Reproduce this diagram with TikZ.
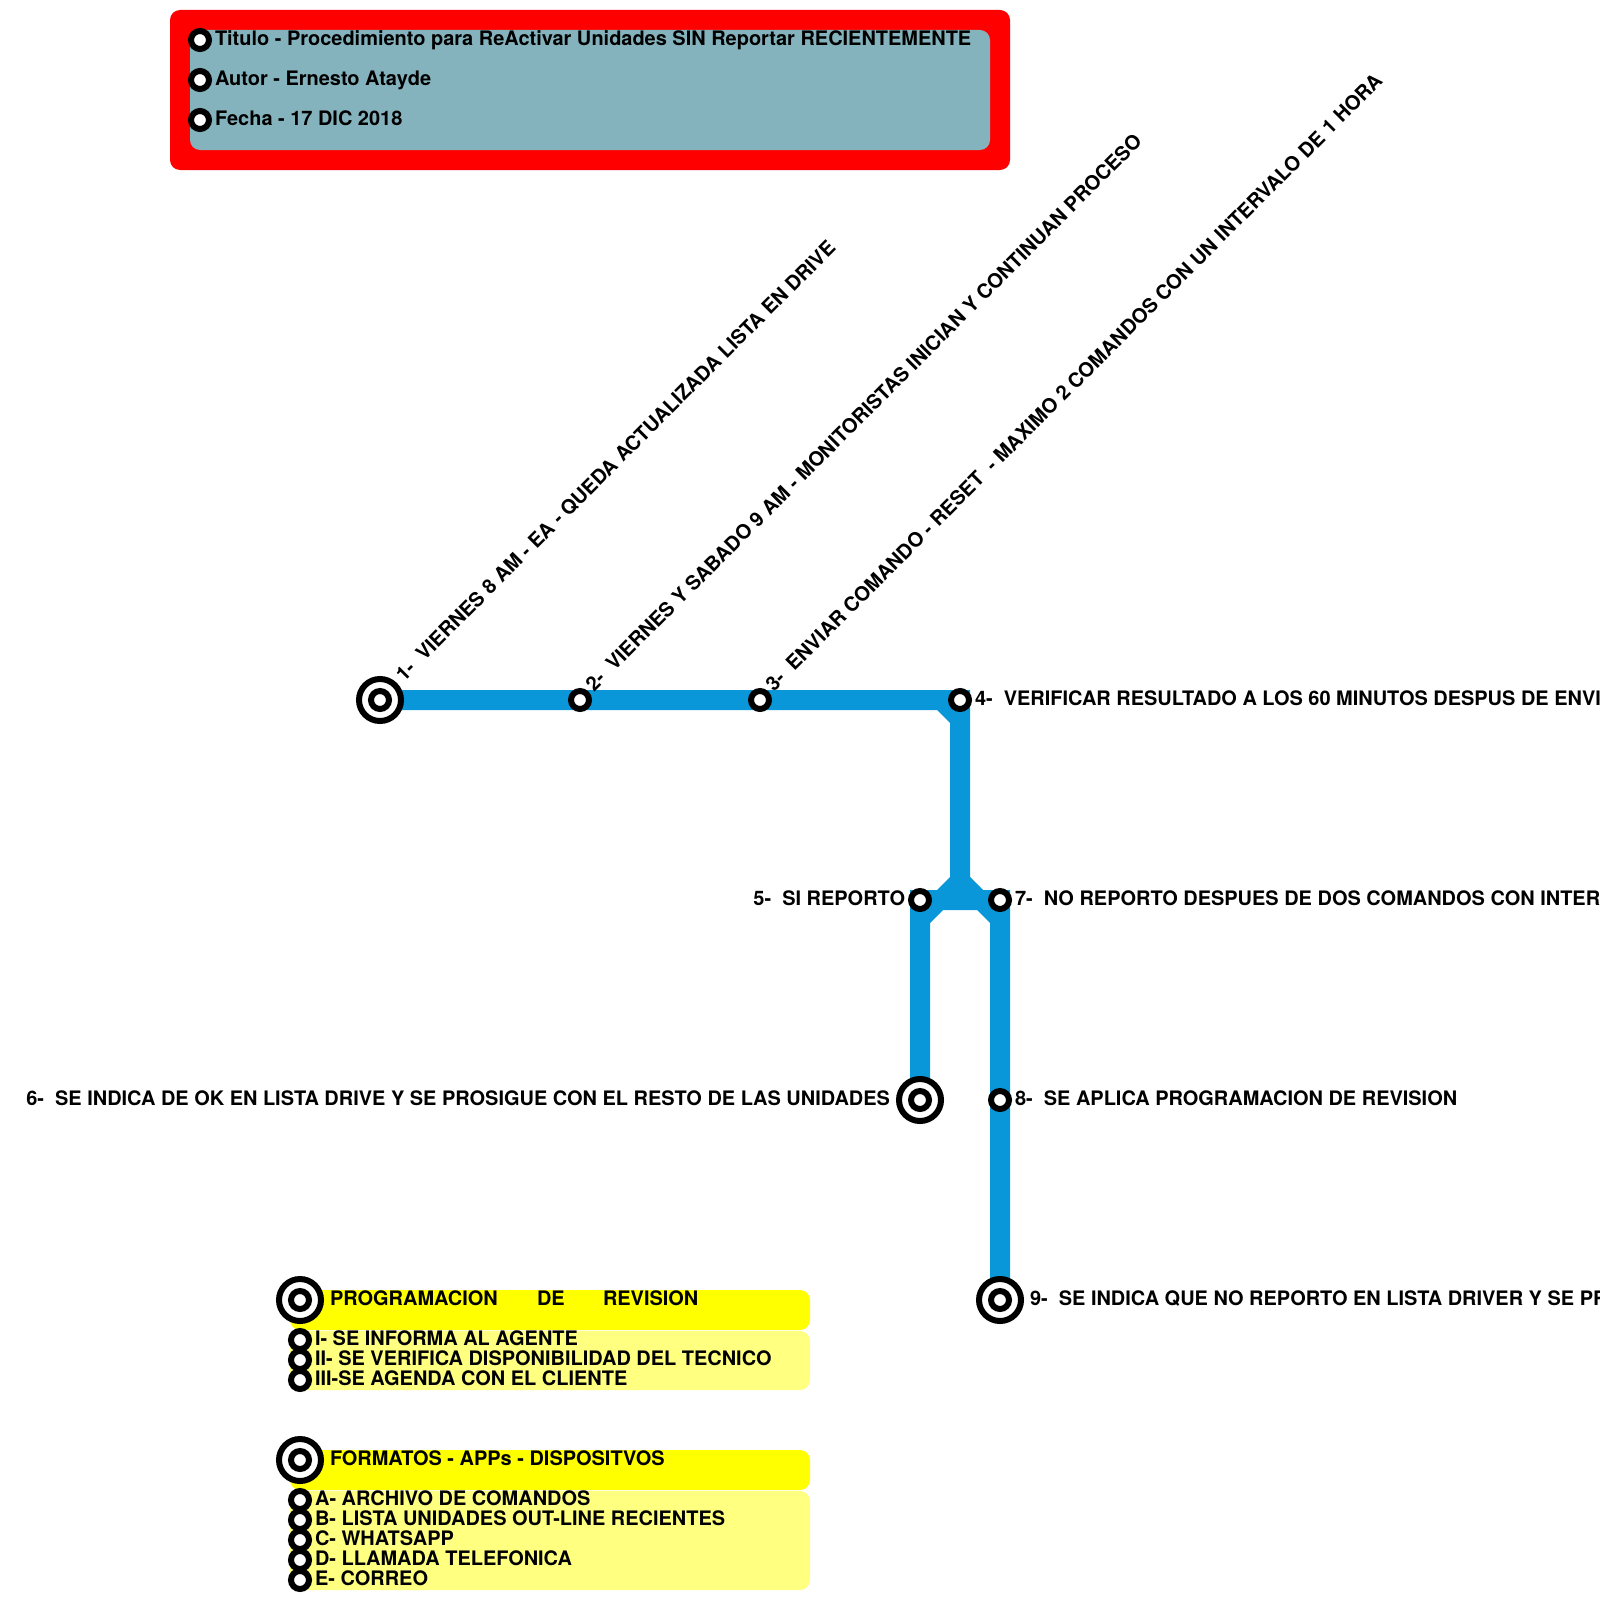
\documentclass[tikz,border=0pt]{standalone}
\usepackage{fontspec}
\setmainfont{TeX Gyre Heros}
\definecolor{lineblue}{HTML}{0A97D9}
\definecolor{boxgray}{HTML}{84B3BD}
\definecolor{softyellow}{HTML}{FFFF80}
\definecolor{pureyellow}{HTML}{FFFF00}
\definecolor{purered}{HTML}{FF0000}
\tikzset{
  x=0.5pt,y=-0.5pt,
  lab/.style={font=\fontsize{9.98}{12}\selectfont\bfseries,text=black,inner sep=0pt,outer sep=0pt},
  stopmark/.style={circle,draw=black,fill=white,line width=3pt,minimum size=9pt,inner sep=0pt,outer sep=0pt},
  endouter/.style={circle,draw=black,fill=white,line width=3pt,minimum size=21pt,inner sep=0pt,outer sep=0pt},
  enddot/.style={circle,draw=black,fill=white,line width=3pt,minimum size=9pt,inner sep=0pt,outer sep=0pt},
  metro/.style={draw=none,fill=lineblue},
}
\newcommand{\terminal}[2]{\node[endouter] (#1) at (#2) {};\node[enddot] (#1c) at (#2) {};}
\begin{document}
\begin{tikzpicture}
\useasboundingbox (0,0) rectangle (1600,1600);
\begin{scope}
\clip (0,0) rectangle (1600,1600);
% header
\fill[purered,rounded corners=5pt] (170,10) rectangle (1010,170);
\fill[boxgray,rounded corners=5pt] (190,30) rectangle (990,150);
% yellow panels
\fill[pureyellow,rounded corners=5pt] (290,1290) rectangle (810,1330);
\fill[softyellow,rounded corners=5pt] (290,1331) rectangle (810,1390);
\fill[pureyellow,rounded corners=5pt] (290,1450) rectangle (810,1490);
\fill[softyellow,rounded corners=5pt] (290,1491) rectangle (810,1590);
% lines
\fill[metro] (380,690) -- (970,690) -- (970,877) -- (983,890) -- (1010,890) -- (1010,1300) -- (990,1300) -- (990,923) -- (977,910) -- (943,910) -- (930,923) -- (930,1100) -- (910,1100) -- (910,890) -- (937,890) -- (950,877) -- (950,723) -- (937,710) -- (380,710) -- cycle;
% stations
\terminal{s1}{380,700}
\node[stopmark] (s2) at (580,700) {};
\node[stopmark] (s3) at (760,700) {};
\node[stopmark] (s4) at (960,700) {};
\node[stopmark] (s5) at (920,900) {};
\node[stopmark] (s7) at (1000,900) {};
\terminal{s6}{920,1100}
\node[stopmark] (s8) at (1000,1100) {};
\terminal{s9}{1000,1300}
\node[stopmark] (h1) at (200,40) {};
\node[stopmark] (h2) at (200,80) {};
\node[stopmark] (h3) at (200,120) {};
\terminal{p0}{300,1300}
\node[stopmark] (p1) at (300,1340) {};
\node[stopmark] (p2) at (300,1360) {};
\node[stopmark] (p3) at (300,1380) {};
\terminal{f0}{300,1460}
\node[stopmark] (f1) at (300,1500) {};
\node[stopmark] (f2) at (300,1520) {};
\node[stopmark] (f3) at (300,1540) {};
\node[stopmark] (f4) at (300,1560) {};
\node[stopmark] (f5) at (300,1580) {};
% labels
\node[lab,anchor=base west] (th1) at (215,45.4) {Titulo - Procedimiento para ReActivar Unidades SIN Reportar RECIENTEMENTE};
\node[lab,anchor=base west] (th2) at (215,85.4) {Autor - Ernesto Atayde};
\node[lab,anchor=base west] (th3) at (215,125.4) {Fecha - 17 DIC 2018};
\node[lab,anchor=base west,rotate=45] (t1) at (404,682) {1-\ \ VIERNES 8 AM - EA - QUEDA ACTUALIZADA LISTA EN DRIVE};
\node[lab,anchor=base west,rotate=45] (t2) at (594,692) {2-\ \ VIERNES Y SABADO 9 AM - MONITORISTAS INICIAN Y CONTINUAN PROCESO};
\node[lab,anchor=base west,rotate=45] (t3) at (774,692) {3-\ \ ENVIAR COMANDO - RESET\ \ - MAXIMO 2 COMANDOS CON UN INTERVALO DE 1 HORA};
\node[lab,anchor=base west] (t4) at (975,705.4) {4-\ \ VERIFICAR RESULTADO A LOS 60 MINUTOS DESPUS DE ENVIAR};
\node[lab,anchor=base east] (t5) at (905,905.4) {5-\ \ SI REPORTO};
\node[lab,anchor=base west] (t7) at (1015,905.4) {7-\ \ NO REPORTO DESPUES DE DOS COMANDOS CON INTERVALO};
\node[lab,anchor=base east] (t6) at (890,1105.4) {6-\ \ SE INDICA DE OK EN LISTA DRIVE Y SE PROSIGUE CON EL RESTO DE LAS UNIDADES};
\node[lab,anchor=base west] (t8) at (1015,1105.4) {8-\ \ SE APLICA PROGRAMACION DE REVISION};
\node[lab,anchor=base west] (t9) at (1030,1305.4) {9-\ \ SE INDICA QUE NO REPORTO EN LISTA DRIVER Y SE PROSIGUE};
\node[lab,anchor=base west] (tp0) at (330,1305.4) {PROGRAMACION};
\node[lab,anchor=base west] (tp0b) at (537,1305.4) {DE};
\node[lab,anchor=base west] (tp0c) at (603,1305.4) {REVISION};
\node[lab,anchor=base west] (tp1) at (315,1345.4) {I- SE INFORMA AL AGENTE};
\node[lab,anchor=base west] (tp2) at (315,1365.4) {II- SE VERIFICA DISPONIBILIDAD DEL TECNICO};
\node[lab,anchor=base west] (tp3) at (315,1385.4) {III-SE AGENDA CON EL CLIENTE};
\node[lab,anchor=base west] (tf0) at (330,1465.4) {FORMATOS - APPs - DISPOSITVOS};
\node[lab,anchor=base west] (tf1) at (315,1505.4) {A- ARCHIVO DE COMANDOS};
\node[lab,anchor=base west] (tf2) at (315,1525.4) {B- LISTA UNIDADES OUT-LINE RECIENTES};
\node[lab,anchor=base west] (tf3) at (315,1545.4) {C- WHATSAPP};
\node[lab,anchor=base west] (tf4) at (315,1565.4) {D- LLAMADA TELEFONICA};
\node[lab,anchor=base west] (tf5) at (315,1585.4) {E- CORREO};
\end{scope}
\end{tikzpicture}
\end{document}
